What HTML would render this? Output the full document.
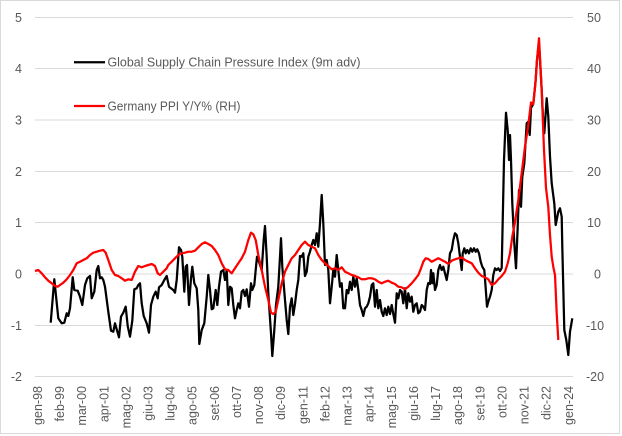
<!DOCTYPE html>
<html><head><meta charset="utf-8"><style>
html,body{margin:0;padding:0;background:#fff;}
svg{display:block;}
text{font-family:"Liberation Sans",sans-serif;fill:#595959;font-size:12.5px;}
</style></head><body>
<svg width="622" height="436" viewBox="0 0 622 436" xmlns="http://www.w3.org/2000/svg">
<rect x="0.5" y="0.5" width="619" height="433" fill="#fff" stroke="#d9d9d9" stroke-width="1"/>
<g stroke="#d9d9d9" stroke-width="1" shape-rendering="crispEdges">
<line x1="35" x2="573" y1="17.5" y2="17.5"/>
<line x1="35" x2="573" y1="68.5" y2="68.5"/>
<line x1="35" x2="573" y1="120" y2="120"/>
<line x1="35" x2="573" y1="171.5" y2="171.5"/>
<line x1="35" x2="573" y1="222.5" y2="222.5"/>
<line x1="35" x2="573" y1="274" y2="274"/>
<line x1="35" x2="573" y1="325.5" y2="325.5"/>
<line x1="35" x2="573" y1="376.5" y2="376.5"/>
</g>
<g text-anchor="end">
<text x="22" y="21.8">5</text>
<text x="22" y="73.1">4</text>
<text x="22" y="124.4">3</text>
<text x="22" y="175.8">2</text>
<text x="22" y="227.1">1</text>
<text x="22" y="278.5">0</text>
<text x="22" y="329.8">-1</text>
<text x="22" y="381.2">-2</text>
</g>
<g text-anchor="start">
<text x="587" y="21.8">50</text>
<text x="587" y="73.1">40</text>
<text x="587" y="124.4">30</text>
<text x="587" y="175.8">20</text>
<text x="587" y="227.1">10</text>
<text x="594" y="278.5">0</text>
<text x="586" y="329.8">-10</text>
<text x="586" y="381.2">-20</text>
</g>
<g text-anchor="end">
<text transform="translate(37.5,386) rotate(-90)" dy="0.35em">gen-98</text>
<text transform="translate(59.6,386) rotate(-90)" dy="0.35em">feb-99</text>
<text transform="translate(81.7,386) rotate(-90)" dy="0.35em">mar-00</text>
<text transform="translate(103.9,386) rotate(-90)" dy="0.35em">apr-01</text>
<text transform="translate(126,386) rotate(-90)" dy="0.35em">mag-02</text>
<text transform="translate(148.1,386) rotate(-90)" dy="0.35em">giu-03</text>
<text transform="translate(170.2,386) rotate(-90)" dy="0.35em">lug-04</text>
<text transform="translate(192.3,386) rotate(-90)" dy="0.35em">ago-05</text>
<text transform="translate(214.5,386) rotate(-90)" dy="0.35em">set-06</text>
<text transform="translate(236.6,386) rotate(-90)" dy="0.35em">ott-07</text>
<text transform="translate(258.7,386) rotate(-90)" dy="0.35em">nov-08</text>
<text transform="translate(280.8,386) rotate(-90)" dy="0.35em">dic-09</text>
<text transform="translate(302.9,386) rotate(-90)" dy="0.35em">gen-11</text>
<text transform="translate(325.1,386) rotate(-90)" dy="0.35em">feb-12</text>
<text transform="translate(347.2,386) rotate(-90)" dy="0.35em">mar-13</text>
<text transform="translate(369.3,386) rotate(-90)" dy="0.35em">apr-14</text>
<text transform="translate(391.4,386) rotate(-90)" dy="0.35em">mag-15</text>
<text transform="translate(413.5,386) rotate(-90)" dy="0.35em">giu-16</text>
<text transform="translate(435.7,386) rotate(-90)" dy="0.35em">lug-17</text>
<text transform="translate(457.8,386) rotate(-90)" dy="0.35em">ago-18</text>
<text transform="translate(479.9,386) rotate(-90)" dy="0.35em">set-19</text>
<text transform="translate(502,386) rotate(-90)" dy="0.35em">ott-20</text>
<text transform="translate(524.1,386) rotate(-90)" dy="0.35em">nov-21</text>
<text transform="translate(546.3,386) rotate(-90)" dy="0.35em">dic-22</text>
<text transform="translate(568.4,386) rotate(-90)" dy="0.35em">gen-24</text>
</g>
<polyline fill="none" stroke="#000" stroke-width="2.25" stroke-linejoin="round" points="50.7,322.7 54.3,279.3 58.3,318.3 61.7,323.3 64.3,322.7 66.7,313.3 68.3,316 70,308.3 72.7,277.3 74.3,290 77.7,290.7 80,296.7 82.3,305 85,285 87.3,278.3 90,276 91.7,298.3 94.3,291.7 96.7,270 98.3,266 100,278.3 101.7,277.3 103.3,280 105,286.7 108.3,311.7 111,330.7 113.3,331.7 115,323.3 116.7,329.3 119,337.3 121,316.7 123.3,312.7 125.7,306.7 127.7,326 130,336.7 132.3,320.7 134.3,289.3 136.7,288.3 138.3,285 140,283.3 141.7,303.3 143.7,316 146.7,323.3 149,332.7 151,305 153.3,296.7 155.7,291.7 157.7,298.3 159,287.3 161.7,285 164.3,280 166.7,276 169,286.7 171,288.3 173.3,290 175,292.7 176.7,280 179,247.3 181,250 182.3,256.7 184.3,291.7 185.7,266.7 187,265 189,305 191,278.3 192.3,266.7 194.3,283.3 196.7,288.3 198.3,310 199.3,344 201.7,330 204.3,323.3 206.7,296.7 208.3,275 210,290 211.7,309.3 213.3,308.3 215.7,290 217.3,305 219,286.7 221,271.7 223.3,270 225,280 226.7,270 228.3,305 230,286.7 231.7,288.3 233.3,305 235,318.3 236.7,310 238.3,303.3 240,308.3 241.7,291.7 243.3,290 245,296 246.7,289.3 249,306.7 251,283.3 252.3,290 254.3,285 255.7,270 257,256.7 259,261.7 261.7,270 263.7,240 265,226 266.7,256.7 268.3,293.3 271,333.3 272.3,356 274.3,330 276,305 278.3,286.7 280,256.7 281,238.3 282.3,266.7 285,300 286.7,320 288.3,334 290,306.7 291.7,298.3 293.3,315 295,304 296.7,290 298.3,280 300,256 301.7,256.7 303.3,253.3 305,276 306.7,271.7 308.3,256.7 310,251.7 311.7,245 313.3,240 315,245 316.7,233.3 318.3,246.7 320,223.3 321.7,195 323.3,223.3 325,265 326.7,260 328.3,270 330,303.3 331.7,286.7 333.3,270 335,276.7 336.7,255 338.3,270 340,286.7 341.7,283.3 343.3,308.3 345,308.3 346.7,290 348.3,293.3 350,281.7 351.7,290 353.3,276.7 355,286.7 356.7,278.3 358.3,290 360,305 361.7,310 363.3,316 365,308.3 366.7,306.7 368.3,303.3 370,296.7 371.7,285 373.3,283.3 375,306.7 376.7,290 378.3,308.3 380,300 381.7,311.7 383.3,316 385,308.3 386.7,315 388.3,306.7 390,314 391.7,305 393.3,314 395,322.7 396.7,293.3 398.3,298.3 400,290 401.7,291.7 403.3,303.3 405,288.3 406.7,308.3 408.3,293.3 410,301.7 411.7,296.7 413.3,311.7 415,305 416.7,303.3 418.3,313.3 420,311.7 421.7,305 423.3,306.7 425,310 426.7,290 428.3,283 430,284 431,270 432.3,283.3 433.3,273.3 435,290 436.7,285 438.3,270 440,265 441.7,270 443.3,266.7 445,273.3 446.7,280 448.3,270 450,253.3 451.7,250 453.3,240 455,233.3 456.7,235 458.3,243.3 460,256.7 461.7,270 462.7,253.3 464.3,248.3 465.7,253.3 467.3,250 469,253.3 470.7,248.3 472.3,251.7 474,248.3 475.7,251.7 477.3,249.3 479,253.3 480.7,261.7 482.3,266.7 484.3,270 485.7,288.3 487,306.7 488.3,301.7 490,296.7 491.7,290 493.3,275 495,268.3 496.7,270 498.3,268.3 500,271 501.7,268 504,160 506,112.7 507.7,130 509,160 510,135 511,160 512.3,203.3 514.3,243.3 516,268.3 517.7,226.7 519,190 521,206.7 522.3,176.7 524.3,163.3 526.7,123.3 528.3,121.7 529.7,135 531,108 533.3,104 535.5,82 537,60 539,42 541.7,90 543.5,128 544.3,133.3 546.7,98.3 548.3,116.7 550,156.7 551.7,183.3 554.3,203.3 555.7,225 558.3,211.7 560,208.3 561.7,216.7 562.3,246.7 564.3,330 566.3,340 568.3,355 570,331.7 572.3,318.3"/>
<polyline fill="none" stroke="#ff0000" stroke-width="2.25" stroke-linejoin="round" points="35,271 38.3,270 41.7,273.3 45,277.3 48.3,280.7 51.7,283.3 55,286 57.7,286.7 60,285 63.3,282.7 66.7,279.3 70,275 73.3,270 76.7,263.3 80,261.7 83.3,260 86.7,258.3 90,255 93.3,252.7 96.7,251.7 100,250.7 103.3,250 105.7,252.7 108.3,260 111.7,270 115,275 118.3,276 121.7,278.3 125,280.7 128.3,279.3 131.7,280 135,271.7 138.3,266 141.7,267.3 145,266 148.3,265 151.7,264 155,266 157.7,273.3 160,275 163.3,271.7 166.7,268.3 168.3,265 171.7,261.7 175,258.3 178.3,255 181.7,253.3 185,252.7 188.3,251.7 191.7,251.7 195,250.7 198.3,247.3 201.7,244 205,242.3 208.3,244 211.7,246 215,250 218.3,255 221.7,263.3 225,269.3 228.3,270 231.7,273.3 235,268.3 238.3,263.3 241.7,258.3 245,251.7 248.3,240 251,232.7 253.3,234.3 255.7,240 258.3,255 261.7,270 265,286.7 268.3,300 271,312.7 273.3,314 275.7,311.7 278.3,300 281.7,283.3 285,271.7 288.3,265 291.7,258.3 295,255 298.3,250 301.7,245 305,241.7 308.3,245 311.7,246.7 315,248.3 318.3,255 321.7,260 325,263.3 328.3,266 331.7,269.3 335,268.3 338.3,270 341.7,267.3 345,271.7 348.3,273.3 351.7,275 355,276 358.3,277.3 361.7,279.3 365,279.3 368.3,278.3 371.7,278.3 375,279.3 378.3,281.7 381.7,283.3 385,281.7 388.3,280.7 391.7,282.7 395,284 398.3,286.7 401.7,287.3 405,289.3 408.3,286.7 411.7,283.3 415,279.3 418.3,275 421,268.3 423.3,261.7 425.7,258.3 428.3,259 431.7,261.7 435,260 438.3,258.3 441.7,260 445,261.7 448.3,264 451.7,260.7 455,259.3 458.3,258.3 461.7,257.3 465,260 468.3,261.7 471.7,263.3 475,268.3 478.3,272.7 481.7,276 485,277.3 488.3,279.3 491.7,285 495,283.3 498.3,279.3 501.7,276 505,271.7 507.7,263.3 510,253.3 512.3,236.7 515,222 518.3,200 521.7,173 525,146.7 528.3,125 531,102.5 533.3,104 535.5,82 537,60 539,38.3 541.7,90 544,150 546,188 548.3,207 550,235 551.7,256.7 553.5,268 555,275 556.7,313.3 558.3,340"/>
<line x1="74" x2="105" y1="62.3" y2="62.3" stroke="#000" stroke-width="2.25"/>
<text x="107.5" y="66.7" textLength="253" lengthAdjust="spacingAndGlyphs">Global Supply Chain Pressure Index (9m adv)</text>
<line x1="74" x2="105" y1="106" y2="106" stroke="#ff0000" stroke-width="2.25"/>
<text x="107.5" y="110.7" textLength="133" lengthAdjust="spacingAndGlyphs">Germany PPI Y/Y% (RH)</text>
</svg>
</body></html>
